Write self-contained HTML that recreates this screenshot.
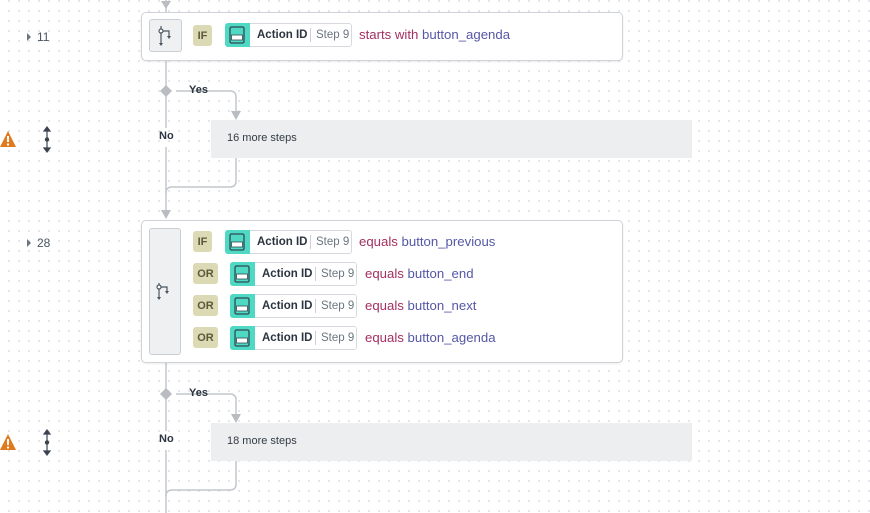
<!DOCTYPE html>
<html><head><meta charset="utf-8"><style>
*{margin:0;padding:0;box-sizing:border-box}
body{width:870px;height:513px;overflow:hidden;position:relative;background:#fff;
background-image:radial-gradient(circle,#dcdfe3 0.8px,transparent 1px);background-size:10px 10px;background-position:4px -4px;
font-family:"Liberation Sans",sans-serif;color:#2b3440}
.abs{position:absolute}
.card{position:absolute;background:#fff;border:1px solid #cfd3d8;border-radius:5px;box-shadow:0 1px 2px rgba(0,0,0,.08)}
.ib{position:absolute;background:#eef0f2;border:1px solid #c9ced4;border-radius:3px}
.badge{position:absolute;height:21px;background:#dcd9b5;border-radius:3px;font-size:11px;font-weight:bold;color:#595a3a;display:flex;align-items:center;justify-content:center}
.chip{position:absolute;height:24px;border:1px solid #d6dade;border-radius:3px;background:#fff;font-size:11.5px;line-height:22px;white-space:nowrap}
.chip .t{position:absolute;left:-1px;top:-1px;width:25px;height:24px;background:#4fd8c4;border-radius:3px 0 0 3px}
.chip b{position:absolute;left:31px;color:#2b3440}
.chip .s{position:absolute;left:84px;color:#6b7580;border-left:1px solid #ccd;padding-left:5px;line-height:14px;top:4px}
.cond{position:absolute;font-size:13.2px;line-height:16px;white-space:nowrap}
.op{color:#a3305f}.val{color:#5557a8}
.gray{position:absolute;background:#eceeef;font-size:11px;color:#333c46;line-height:37px;padding-left:16px}
.lbl{position:absolute;font-size:11px;font-weight:bold;color:#2b3440}
.num{position:absolute;font-size:12px;color:#4a5560}
</style></head><body>
<svg class="abs" style="left:0;top:0" width="870" height="513">
<defs><g id="doc"><rect x="5" y="4" width="14" height="16" rx="1.5" fill="none" stroke="#2e4a50" stroke-width="1.3"/><rect x="6.5" y="12" width="11" height="5" fill="#fff" stroke="#2e4a50" stroke-width="0.8"/></g></defs>
<g stroke="#c3c7cc" stroke-width="1.5" fill="none">
<line x1="166" y1="0" x2="166" y2="12"/>
<line x1="166" y1="60" x2="166" y2="128"/>
<line x1="166" y1="147" x2="166" y2="212"/>
<path d="M176 91 H230 q6 0 6 6 V112"/>
<path d="M236 157 V181 q0 6 -6 6 H172 q-6 0 -6 6"/>
<line x1="166" y1="362" x2="166" y2="431"/>
<line x1="166" y1="450" x2="166" y2="513"/>
<path d="M176 394 H230 q6 0 6 6 V415"/>
<path d="M236 460 V484 q0 6 -6 6 H172 q-6 0 -6 6"/>
</g>
<g fill="#b9bdc2">
<polygon points="161,1 171,1 166,9"/>
<polygon points="166,85 172,91 166,97 160,91"/>
<polygon points="231,111 241,111 236,120"/>
<polygon points="161,210 171,210 166,219"/>
<polygon points="166,388 172,394 166,400 160,394"/>
<polygon points="231,414 241,414 236,423"/>
</g>
<g fill="#6b7580"><polygon points="27,33 31,37 27,41"/><polygon points="27,239 31,243 27,247"/></g>
<g fill="#e07a1f"><path d="M8 131 L16 147 H0 Z"/><path d="M8 434 L16 450 H0 Z"/></g>
<g fill="#fff"><rect x="7" y="136" width="2" height="6"/><rect x="7" y="143.5" width="2" height="2"/><rect x="7" y="439" width="2" height="6"/><rect x="7" y="446.5" width="2" height="2"/></g>
<g stroke="#3a4450" stroke-width="1.2" fill="#3a4450">
<line x1="47" y1="129" x2="47" y2="150"/><polygon points="44,131 50,131 47,127"/><polygon points="44,148 50,148 47,152"/><circle cx="47" cy="139.5" r="1.6"/>
<line x1="47" y1="432" x2="47" y2="453"/><polygon points="44,434 50,434 47,430"/><polygon points="44,451 50,451 47,455"/><circle cx="47" cy="442.5" r="1.6"/>
</g>
</svg>

<div class="num" style="left:37px;top:30px">11</div>
<div class="num" style="left:37px;top:236px">28</div>

<div class="card" style="left:141px;top:12px;width:482px;height:49px"></div>
<div class="ib" style="left:149px;top:19px;width:33px;height:33px"></div>
<svg class="abs" style="left:149px;top:19px" width="33" height="33"><g stroke="#4a5560" stroke-width="1.2" fill="none"><line x1="12" y1="7" x2="12" y2="25"/><path d="M12 12 H20 V18"/><circle cx="12" cy="12" r="2" fill="#fff"/></g><g fill="#4a5560"><polygon points="10,24 14,24 12,27"/><polygon points="18,17 22,17 20,20"/></g></svg>
<div class="badge" style="left:193px;top:25px;width:19px">IF</div>
<div class="chip" style="left:225px;top:23px;width:127px"><span class="t"></span><b>Action ID</b><span class="s">Step 9</span></div>
<svg class="abs" style="left:225px;top:23px" width="25" height="24"><use href="#doc"/></svg>
<div class="cond" style="left:359px;top:27px"><span class="op">starts with</span> <span class="val">button_agenda</span></div>

<div class="gray" style="left:211px;top:120px;width:481px;height:38px">16 more steps</div>
<div class="lbl" style="left:189px;top:84px">Yes</div>
<div class="lbl" style="left:159px;top:130px">No</div>

<div class="card" style="left:141px;top:220px;width:482px;height:143px"></div>
<div class="ib" style="left:149px;top:228px;width:32px;height:127px"></div>
<svg class="abs" style="left:149px;top:275px" width="32" height="33"><g stroke="#4a5560" stroke-width="1.2" fill="none"><line x1="10" y1="8" x2="10" y2="23"/><path d="M10 12 H18 V17"/><circle cx="10" cy="12" r="2" fill="#fff"/></g><g fill="#4a5560"><polygon points="8,22 12,22 10,25"/><polygon points="16,16 20,16 18,19"/></g></svg>

<div class="badge" style="left:193px;top:231px;width:19px">IF</div>
<div class="chip" style="left:225px;top:230px;width:127px"><span class="t"></span><b>Action ID</b><span class="s">Step 9</span></div>
<svg class="abs" style="left:225px;top:230px" width="25" height="24"><use href="#doc"/></svg>
<div class="cond" style="left:359px;top:234px"><span class="op">equals</span> <span class="val">button_previous</span></div>

<div class="badge" style="left:193px;top:263px;width:25px">OR</div>
<div class="chip" style="left:230px;top:262px;width:127px"><span class="t"></span><b>Action ID</b><span class="s">Step 9</span></div>
<svg class="abs" style="left:230px;top:262px" width="25" height="24"><use href="#doc"/></svg>
<div class="cond" style="left:365px;top:266px"><span class="op">equals</span> <span class="val">button_end</span></div>

<div class="badge" style="left:193px;top:295px;width:25px">OR</div>
<div class="chip" style="left:230px;top:294px;width:127px"><span class="t"></span><b>Action ID</b><span class="s">Step 9</span></div>
<svg class="abs" style="left:230px;top:294px" width="25" height="24"><use href="#doc"/></svg>
<div class="cond" style="left:365px;top:298px"><span class="op">equals</span> <span class="val">button_next</span></div>

<div class="badge" style="left:193px;top:327px;width:25px">OR</div>
<div class="chip" style="left:230px;top:326px;width:127px"><span class="t"></span><b>Action ID</b><span class="s">Step 9</span></div>
<svg class="abs" style="left:230px;top:326px" width="25" height="24"><use href="#doc"/></svg>
<div class="cond" style="left:365px;top:330px"><span class="op">equals</span> <span class="val">button_agenda</span></div>

<div class="gray" style="left:211px;top:423px;width:481px;height:38px">18 more steps</div>
<div class="lbl" style="left:189px;top:387px">Yes</div>
<div class="lbl" style="left:159px;top:433px">No</div>
</body></html>
